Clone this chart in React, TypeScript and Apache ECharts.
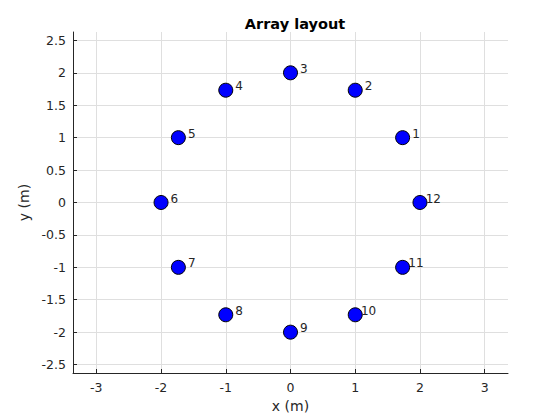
import React, { useEffect, useRef } from "react";
import * as echarts from "echarts";

const elementLabels = ["1", "2", "3", "4", "5", "6", "7", "8", "9", "10", "11", "12"];
const xValues = [1.732, 1, 0, -1, -1.732, -2, -1.732, -1, 0, 1, 1.732, 2];
const yValues = [1, 1.732, 2, 1.732, 1, 0, -1, -1.732, -2, -1.732, -1, 0];
const xTicks = [-3, -2, -1, 0, 1, 2, 3];
const yTicks = [-2.5, -2, -1.5, -1, -0.5, 0, 0.5, 1, 1.5, 2, 2.5];

const FONT = "DejaVu Sans";
const TXT = "#262626";

export default function App() {
  const ref = useRef<HTMLDivElement>(null);
  useEffect(() => {
    if (!ref.current) return;
    const chart = echarts.init(ref.current, undefined, { renderer: "svg" });
    const axisCommon = {
      axisLine: { show: true, onZero: false, lineStyle: { color: "#262626", width: 1 } },
      axisTick: { show: true, inside: true, length: 4, lineStyle: { color: "#262626" } },
      splitLine: { show: true, lineStyle: { color: "#dfdfdf", width: 1 } },
      nameTextStyle: { fontFamily: FONT, fontSize: 14, color: TXT },
    };
    chart.setOption({
      animation: false,
      backgroundColor: "#ffffff",
      title: {
        text: "Array layout",
        left: 290,
        textAlign: "center",
        top: 11,
        textStyle: { fontFamily: FONT, fontSize: 14.5, fontWeight: "bold", color: "#000" },
      },
      grid: { left: 73, top: 32, width: 435, height: 341, containLabel: false },
      xAxis: {
        type: "value",
        min: -3.36,
        max: 3.36,
        name: "x (m)",
        nameLocation: "middle",
        nameGap: 25,
        ...axisCommon,
        axisTick: { ...axisCommon.axisTick, customValues: xTicks },
        axisLabel: {
          customValues: xTicks,
          fontFamily: FONT,
          fontSize: 12.5,
          color: TXT,
          margin: 8,
          formatter: (v: number) => String(v),
        },
      },
      yAxis: {
        type: "value",
        min: -2.63,
        max: 2.63,
        name: "y (m)",
        nameLocation: "middle",
        nameGap: 31,
        ...axisCommon,
        axisTick: { ...axisCommon.axisTick, customValues: yTicks },
        axisLabel: {
          customValues: yTicks,
          fontFamily: FONT,
          fontSize: 12.5,
          color: TXT,
          margin: 7,
          formatter: (v: number) => String(v),
        },
      },
      series: [
        {
          type: "scatter",
          symbol: "circle",
          symbolSize: 14,
          itemStyle: { color: "#0000ff", borderColor: "#000000", borderWidth: 1, opacity: 1 },
          label: {
            show: true,
            position: "right",
            distance: 0,
            offset: [-1.8, -4],
            fontFamily: FONT,
            fontSize: 12,
            color: TXT,
            formatter: (p: any) => String(p.data[2]).padStart(2, "\u00a0"),
          },
          emphasis: { disabled: true },
          data: xValues.map((x, i) => [x, yValues[i], elementLabels[i]]),
        },
      ],
    });
    return () => chart.dispose();
  }, []);
  return <div ref={ref} style={{ width: 560, height: 420, position: "absolute", left: 0, top: 0 }} />;
}
